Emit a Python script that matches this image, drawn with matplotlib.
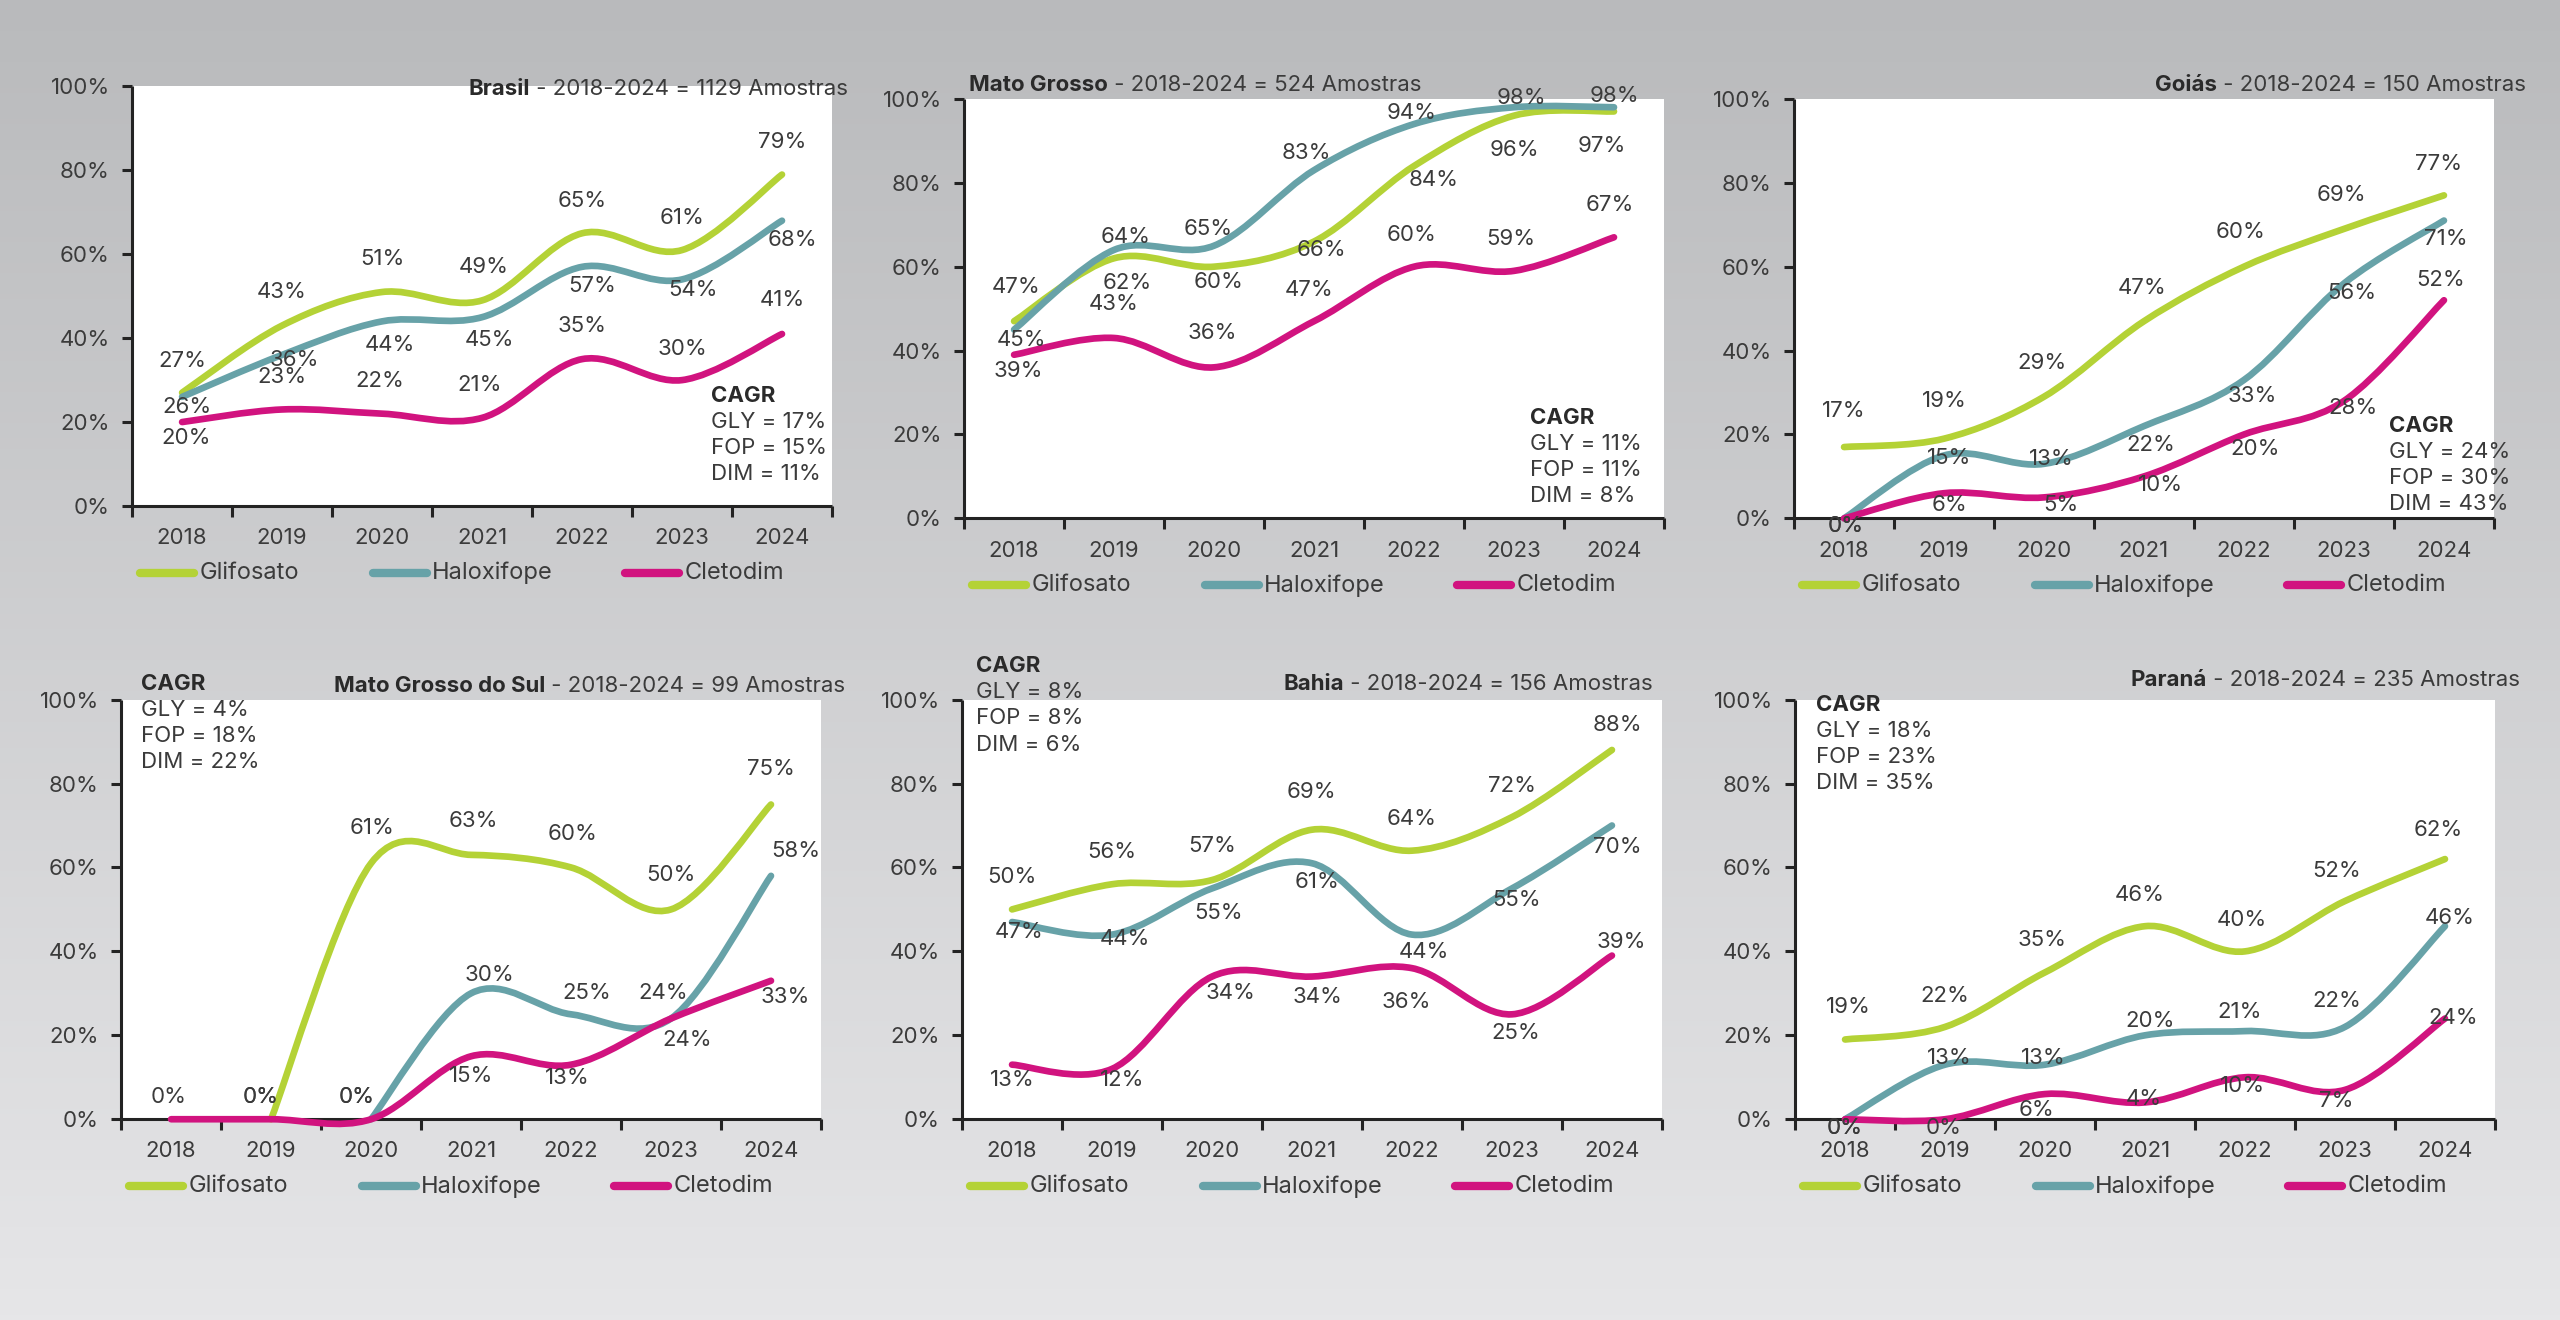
import numpy as np
import matplotlib
matplotlib.use("Agg")
import matplotlib.pyplot as plt
from matplotlib.path import Path
from matplotlib.patches import PathPatch
from matplotlib.lines import Line2D

plt.rcParams['font.family'] = ['Inter', 'DejaVu Sans']

# ---------------- data ----------------
years = ['2018', '2019', '2020', '2021', '2022', '2023', '2024']
series_names = ['Glifosato', 'Haloxifope', 'Cletodim']
nan = float('nan')

brasil_gly = [27, 43, 51, 49, 65, 61, 79]
brasil_fop = [26, 36, 44, 45, 57, 54, 68]
brasil_dim = [20, 23, 22, 21, 35, 30, 41]
brasil_cagr = [17, 15, 11]

mt_gly = [47, 62, 60, 66, 84, 96, 97]
mt_fop = [45, 64, 65, 83, 94, 98, 98]
mt_dim = [39, 43, 36, 47, 60, 59, 67]
mt_cagr = [11, 11, 8]

go_gly = [17, 19, 29, 47, 60, 69, 77]
go_fop = [0, 15, 13, 22, 33, 56, 71]
go_dim = [0, 6, 5, 10, 20, 28, 52]
go_cagr = [24, 30, 43]

ms_gly = [nan, 0, 61, 63, 60, 50, 75]
ms_fop = [nan, nan, 0, 30, 25, 24, 58]
ms_dim = [0, 0, 0, 15, 13, 24, 33]
ms_cagr = [4, 18, 22]

ba_gly = [50, 56, 57, 69, 64, 72, 88]
ba_fop = [47, 44, 55, 61, 44, 55, 70]
ba_dim = [13, 12, 34, 34, 36, 25, 39]
ba_cagr = [8, 8, 6]

pr_gly = [19, 22, 35, 46, 40, 52, 62]
pr_fop = [0, 13, 13, 20, 21, 22, 46]
pr_dim = [0, 0, 6, 4, 10, 7, 24]
pr_cagr = [18, 23, 35]

region_names = ['Brasil', 'Mato Grosso', 'Goiás', 'Mato Grosso do Sul', 'Bahia', 'Paraná']
region_samples = [1129, 524, 150, 99, 156, 235]

# ---------------- styles / positions ----------------
colors = ['#b4d236', '#67a2a8', '#d1137f']
text_color = '#3b3b3b'
axis_color = '#232323'

# label offsets (dx in categories, dy in % points) per region / series
label_offsets = {
    'Brasil': [
        [(0, 7.6), (0, 8.1), (0, 7.8), (0.02, 8), (0, 7.7), (0, 7.6), (0, 7.7)],
        [(0.05, -2.5), (0.12, -1.2), (0.08, -5.6), (0.07, -5.4), (0.1, -4.5), (0.11, -2.6), (0.1, -4.6)],
        [(0.04, -3.9), (0, 7.7), (-0.02, 7.7), (-0.02, 7.9), (0, 7.9), (0, 7.5), (0, 8)],
    ],
    'Mato Grosso': [
        [(0.02, 8.2), (0.13, -5.8), (0.05, -3.6), (0.07, -2.1), (0.2, -3.3), (0, -8.2), (-0.12, -8.2)],
        [(0.07, -2.5), (0.12, 3), (-0.06, 3.9), (-0.08, 4.1), (-0.02, 2.7), (0.07, 2.2), (0, 2.7)],
        [(0.04, -3.9), (0, 8.2), (-0.02, 8.1), (-0.05, 7.5), (-0.02, 7.6), (-0.03, 7.6), (-0.04, 7.7)],
    ],
    'Goiás': [
        [(0, 8.7), (0, 8.9), (-0.02, 8.1), (-0.02, 8), (-0.03, 8.3), (-0.03, 8.1), (-0.05, 7.4)],
        [(0.02, -1.8), (0.05, -0.7), (0.07, 1.2), (0.07, -4.4), (0.08, -3.8), (0.08, -2.2), (0.02, -4.5)],
        [(0.02, -1.8), (0.05, -2.9), (0.17, -1.9), (0.17, -2), (0.11, -3.4), (0.09, -1.8), (-0.03, 4.8)],
    ],
    'Mato Grosso do Sul': [
        [None, (-0.1, 5.2), (0.01, 8.3), (0.02, 8.1), (0.02, 8), (0, 8.1), (0, 8.5)],
        [None, None, (-0.14, 5.2), (0.18, 4.4), (0.16, 5.2), (-0.08, 6.2), (0.25, 5.9)],
        [(-0.02, 5.2), (-0.1, 5.2), (-0.14, 5.2), (0, -4.8), (-0.04, -3.2), (0.16, -5.2), (0.14, -3.9)],
    ],
    'Bahia': [
        [(0, 7.8), (0, 7.7), (0, 8), (-0.01, 8.9), (0, 7.6), (0, 7.4), (0.05, 5.9)],
        [(0.07, -2.3), (0.13, -1), (0.07, -5.8), (0.05, -4.5), (0.12, -4.1), (0.05, -2.8), (0.05, -5.1)],
        [(0, -3.6), (0.1, -2.6), (0.18, -3.9), (0.06, -4.8), (-0.06, -8), (0.04, -4.4), (0.09, 3.2)],
    ],
    'Paraná': [
        [(0.03, 7.8), (0, 7.4), (-0.03, 7.8), (-0.05, 7.4), (-0.03, 7.5), (-0.08, 7.2), (-0.07, 6.9)],
        [(0, -2), (0.04, 1.7), (-0.02, 1.7), (0.05, 3.3), (-0.05, 4.5), (-0.08, 6.1), (0.05, 2)],
        [(0, -2), (-0.01, -2), (-0.09, -3.7), (-0.01, 0.75), (-0.03, -2.2), (-0.09, -2.7), (0.08, 0.2)],
    ],
}

# axes rectangles (figure fraction)
axes_rects = [
    (0.0516, 0.6167, 0.2734, 0.3178),
    (0.3766, 0.6073, 0.2734, 0.3178),
    (0.7008, 0.6073, 0.2734, 0.3178),
    (0.0473, 0.1521, 0.2734, 0.3179),
    (0.3758, 0.1521, 0.2734, 0.3179),
    (0.7012, 0.1521, 0.2734, 0.3179),
]
# title anchor: (x, y, alignment)
title_pos = [(6.66, 99.3, 'right'), (-0.45, 103.3, 'left'), (6.82, 103.3, 'right'),
             (6.74, 103.2, 'right'), (6.41, 103.6, 'right'), (6.75, 104.6, 'right')]
# CAGR block anchor: (x_left, y_of_first_line)
cagr_pos = [(5.29, 26.2), (5.16, 24.0), (5.45, 22.1), (-0.30, 103.8), (-0.36, 107.9), (-0.29, 98.7)]

regions_data = [
    (brasil_gly, brasil_fop, brasil_dim, brasil_cagr),
    (mt_gly, mt_fop, mt_dim, mt_cagr),
    (go_gly, go_fop, go_dim, go_cagr),
    (ms_gly, ms_fop, ms_dim, ms_cagr),
    (ba_gly, ba_fop, ba_dim, ba_cagr),
    (pr_gly, pr_fop, pr_dim, pr_cagr),
]


def smooth_path(xs, ys):
    """Bezier path through the points (Excel-style smoothed line)."""
    n = len(xs)
    verts = [(xs[0], ys[0])]
    codes = [Path.MOVETO]
    for i in range(n - 1):
        i0 = max(i - 1, 0)
        i3 = min(i + 2, n - 1)
        c1 = (xs[i] + (xs[i + 1] - xs[i0]) / 6.0, ys[i] + (ys[i + 1] - ys[i0]) / 6.0)
        c2 = (xs[i + 1] - (xs[i3] - xs[i]) / 6.0, ys[i + 1] - (ys[i3] - ys[i]) / 6.0)
        verts += [c1, c2, (xs[i + 1], ys[i + 1])]
        codes += [Path.CURVE4] * 3
    return Path(verts, codes)


fig = plt.figure(figsize=(25.6, 13.2), dpi=100)

# gradient background
bg = fig.add_axes([0, 0, 1, 1], zorder=-10)
grad = np.linspace(0, 1, 256).reshape(-1, 1)
top = np.array([185, 186, 188]) / 255.0
bot = np.array([230, 230, 232]) / 255.0
img = top[None, None, :] * (1 - grad[:, :, None]) + bot[None, None, :] * grad[:, :, None]
bg.imshow(img, aspect='auto', extent=[0, 1, 0, 1], origin='upper')
bg.set_axis_off()

x_idx = np.arange(len(years))
FS = 16

for k, rect in enumerate(axes_rects):
    ax = fig.add_axes(rect)
    ax.set_facecolor('white')
    ax.set_xlim(-0.5, 6.5)
    ax.set_ylim(0, 100)
    for s in ['top', 'right']:
        ax.spines[s].set_visible(False)
    for s in ['left', 'bottom']:
        ax.spines[s].set_color(axis_color)
        ax.spines[s].set_linewidth(2.2)
        ax.spines[s].set_capstyle('butt')
    ax.set_xticks(np.arange(-0.5, 7.0, 1.0))
    ax.set_xticklabels([])
    ax.set_xticks(x_idx, minor=True)
    ax.set_xticklabels(years, minor=True)
    ax.tick_params(axis='x', which='major', length=8, width=2.2, color=axis_color, direction='out')
    ax.tick_params(axis='x', which='minor', length=0, pad=16, labelsize=FS, labelcolor=text_color)
    yt = [0, 20, 40, 60, 80, 100]
    ax.set_yticks(yt)
    ax.set_yticklabels([f'{v}%' for v in yt])
    ax.tick_params(axis='y', length=7, width=2.2, color=axis_color, pad=9,
                   labelsize=FS, labelcolor=text_color)

    gly, fop, dim, cagr = regions_data[k]
    name = region_names[k]
    for si, vals in enumerate([gly, fop, dim]):
        vals = np.asarray(vals, dtype=float)
        ok = ~np.isnan(vals)
        xs = x_idx[ok].astype(float)
        ys = vals[ok]
        path = smooth_path(list(xs), list(ys))
        patch = PathPatch(path, fill=False, edgecolor=colors[si], lw=4.8,
                          capstyle='round', joinstyle='round', clip_on=False, zorder=3 + si)
        ax.add_patch(patch)
        offs = label_offsets[name][si]
        for i, v in enumerate(vals):
            if np.isnan(v) or offs[i] is None:
                continue
            dx, dy = offs[i]
            ax.text(i + dx, v + dy, f'{int(round(v))}%', ha='center', va='center',
                    fontsize=FS, color=text_color, zorder=10)

    # title
    tx, ty, al = title_pos[k]
    rest = f' - 2018-2024 = {region_samples[k]} Amostras'
    if al == 'right':
        t2 = ax.text(tx, ty, rest, ha='right', va='center', fontsize=FS, color=text_color, zorder=11)
        ax.annotate(name, xy=(0, 0.5), xycoords=t2, ha='right', va='center',
                    fontsize=FS, fontweight='bold', color='#2a2a2a', zorder=11)
    else:
        t1 = ax.text(tx, ty, name, ha='left', va='center', fontsize=FS, fontweight='bold',
                     color='#2a2a2a', zorder=11)
        ax.annotate(rest, xy=(1, 0.5), xycoords=t1, ha='left', va='center',
                    fontsize=FS, color=text_color, zorder=11)

    # CAGR block
    cx, cy = cagr_pos[k]
    ax.text(cx, cy, 'CAGR', ha='left', va='center', fontsize=FS, fontweight='bold',
            color='#2a2a2a', zorder=11)
    for j, (lab, val) in enumerate(zip(['GLY', 'FOP', 'DIM'], cagr)):
        ax.text(cx, cy - 6.2 * (j + 1), f'{lab} = {val}%', ha='left', va='center',
                fontsize=FS, color=text_color, zorder=11)

    # legend (manual, below the axis)
    ly = -0.160
    for si, (sx, nm) in enumerate(zip([0.0114, 0.344, 0.704], series_names)):
        ax.add_line(Line2D([sx, sx + 0.077], [ly, ly], transform=ax.transAxes, color=colors[si],
                           lw=6, solid_capstyle='round', clip_on=False))
        ax.text(sx + 0.085, ly, nm, transform=ax.transAxes, ha='left', va='center',
                fontsize=FS + 1, color=text_color)

fig.savefig('out.png', dpi=100)
